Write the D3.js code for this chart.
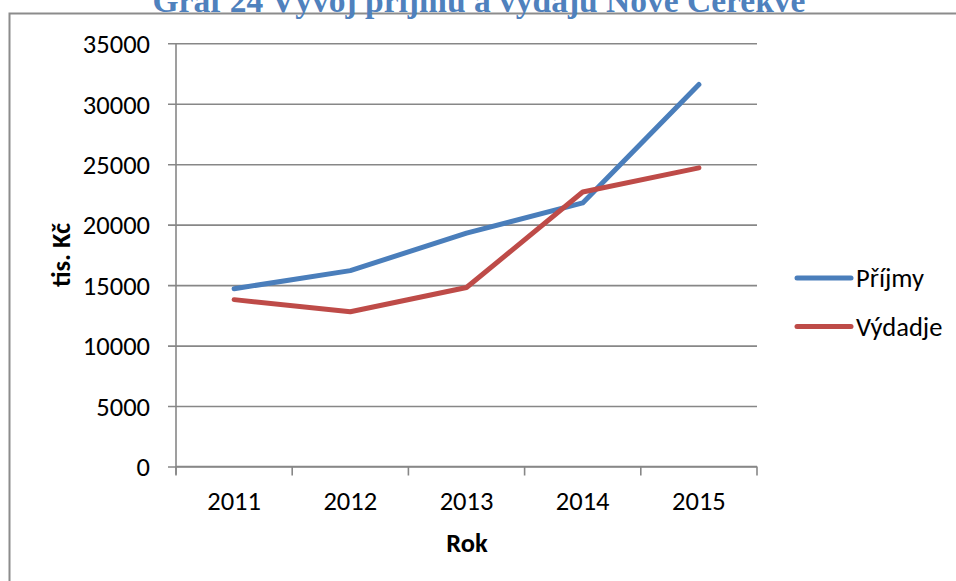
<!DOCTYPE html>
<html>
<head>
<meta charset="utf-8">
<script src="https://cdn.jsdelivr.net/npm/d3@7/dist/d3.min.js"></script>
<style>
  body { margin: 0; background: #fff; }
  svg { display: block; }
  text { font-family: Carlito, Lato, "Liberation Sans", sans-serif; fill: #000; }
</style>
</head>
<body>
<svg id="chart" width="956" height="581"></svg>
<script>
var TITLE = "Graf 24 Vývoj příjmů a výdajů Nové Cerekve";
var YEARS = ["2011", "2012", "2013", "2014", "2015"];
var PRIJMY = [14700, 16200, 19300, 21800, 31600];
var VYDAJE = [13800, 12800, 14800, 22700, 24700];
var Y_TICKS = [0, 5000, 10000, 15000, 20000, 25000, 30000, 35000];
var SERIES_NAMES = ["Příjmy", "Výdadje"];
var SERIES_COLORS = ["#4A7EBB", "#BE4B48"];

var FONT_SIZE = "26.5px";
var svg = d3.select("#chart");

// outer frame (only top and left edges are inside the window)
svg.append("rect")
	.attr("x", 9.5).attr("y", 13.5)
	.attr("width", 1000).attr("height", 700)
	.style("fill", "none")
	.style("stroke", "#8c8c8c")
	.style("stroke-width", 2);

// title, clipped by the top of the window as in the original
svg.append("text")
	.attr("x", 479).attr("y", 12)
	.attr("text-anchor", "middle")
	.style("font-family", "'Liberation Serif', 'Times New Roman', serif")
	.style("font-weight", "bold")
	.style("font-size", "33.5px")
	.style("fill", "#4F81BD")
	.text(TITLE);

var plot = { left: 176, right: 757, top: 43.3, bottom: 466.5 };

var x = d3.scaleBand().domain(YEARS).range([plot.left, plot.right]);
var y = d3.scaleLinear().domain([0, 35000]).range([plot.bottom, plot.top]);

// gridlines + y ticks
svg.append("g")
	.attr("transform", "translate(" + plot.left + ",0)")
	.call(d3.axisLeft(y).tickValues(Y_TICKS).tickSize(8).tickPadding(18).tickFormat(d3.format("d")))
	.call(function(g) {
		g.select(".domain").remove();
		g.selectAll(".tick line").attr("x2", plot.right - plot.left).attr("x1", -8)
			.style("stroke", "#878787").style("stroke-width", 1.6);
		g.selectAll(".tick text").style("font-size", FONT_SIZE).attr("dy", "0.35em")
			.style("font-family", "Carlito, Lato, sans-serif");
	});

// y axis line
svg.append("line")
	.attr("x1", plot.left).attr("x2", plot.left)
	.attr("y1", plot.top).attr("y2", plot.bottom + 8)
	.style("stroke", "#878787").style("stroke-width", 1.6);

// x axis
var xTickPos = YEARS.map(function(d) { return x(d); }).concat([plot.right]);
svg.append("g").selectAll("line").data(xTickPos).enter().append("line")
	.attr("x1", function(d) { return d; }).attr("x2", function(d) { return d; })
	.attr("y1", plot.bottom).attr("y2", plot.bottom + 9)
	.style("stroke", "#878787").style("stroke-width", 1.6);

svg.append("line")
	.attr("x1", plot.left).attr("x2", plot.right)
	.attr("y1", plot.bottom).attr("y2", plot.bottom)
	.style("stroke", "#878787").style("stroke-width", 1.6);

svg.append("g").selectAll("text").data(YEARS).enter().append("text")
	.attr("x", function(d) { return x(d) + x.bandwidth() / 2; })
	.attr("y", 510)
	.attr("text-anchor", "middle")
	.style("font-size", FONT_SIZE)
	.text(function(d) { return d; });

// axis titles
svg.append("text")
	.attr("x", 467).attr("y", 552)
	.attr("text-anchor", "middle")
	.style("font-size", FONT_SIZE).style("font-weight", "bold")
	.text("Rok");

svg.append("text")
	.attr("transform", "translate(70,255) rotate(-90)")
	.attr("text-anchor", "middle")
	.style("font-size", FONT_SIZE).style("font-weight", "bold")
	.text("tis. Kč");

// series lines
var line = d3.line()
	.x(function(d, i) { return x(YEARS[i]) + x.bandwidth() / 2; })
	.y(function(d) { return y(d); });

[PRIJMY, VYDAJE].forEach(function(values, i) {
	svg.append("path")
		.datum(values)
		.attr("d", line)
		.style("fill", "none")
		.style("stroke", SERIES_COLORS[i])
		.style("stroke-width", 5)
		.style("stroke-linecap", "round")
		.style("stroke-linejoin", "round");
});

// legend
var legend = svg.append("g").selectAll("g").data(SERIES_NAMES).enter().append("g")
	.attr("transform", function(d, i) { return "translate(797," + (278 + i * 48.5) + ")"; });

legend.append("line")
	.attr("x1", 0).attr("x2", 54)
	.style("stroke", function(d, i) { return SERIES_COLORS[i]; })
	.style("stroke-width", 5)
	.style("stroke-linecap", "round");

legend.append("text")
	.attr("x", 59).attr("dy", "0.35em")
	.style("font-size", FONT_SIZE)
	.text(function(d) { return d; });
</script>
</body>
</html>
